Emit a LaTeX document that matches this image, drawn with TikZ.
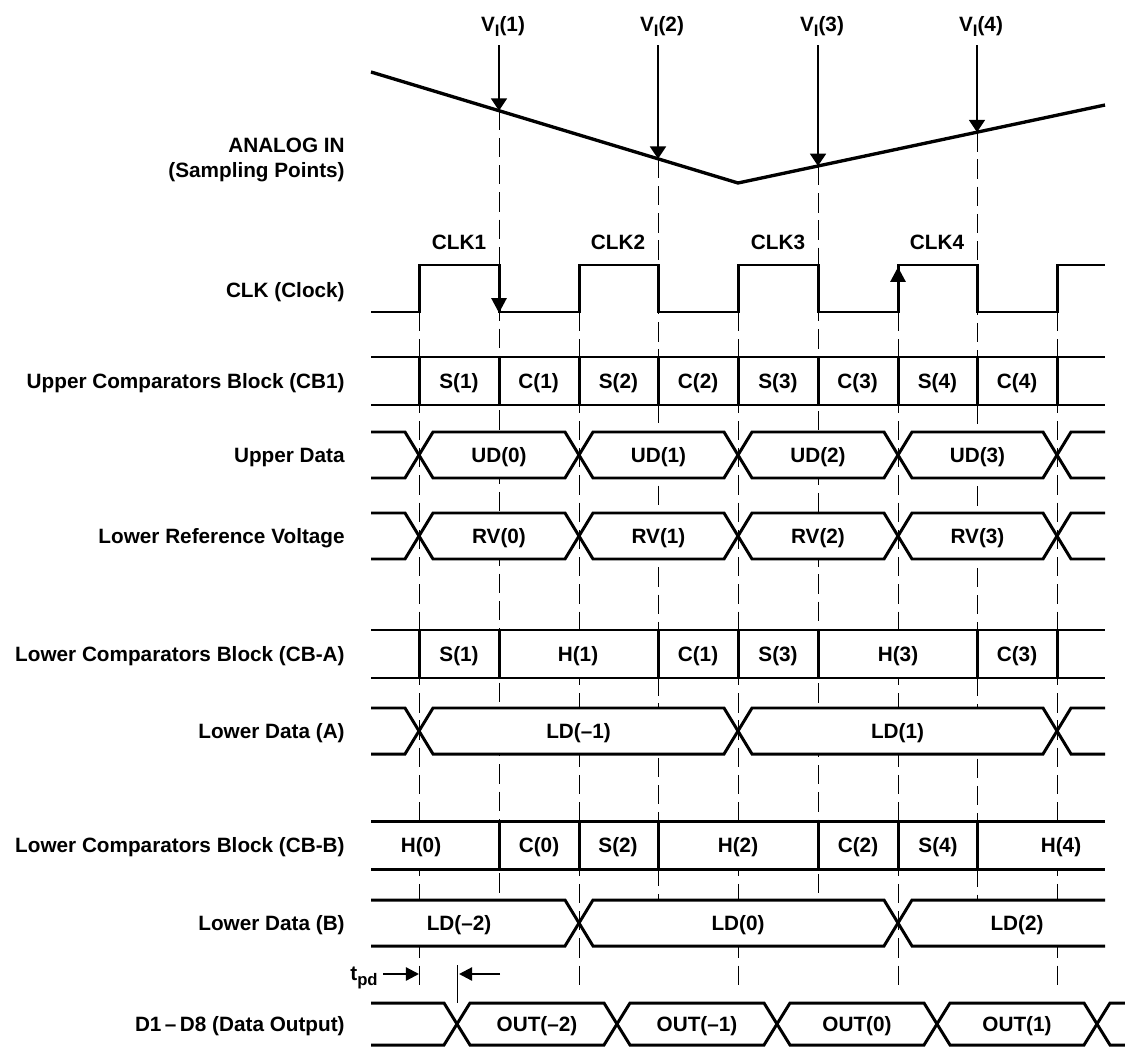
\documentclass[tikz,border=0pt]{standalone}
\usepackage{fontspec}
\setmainfont{Liberation Sans}
\usetikzlibrary{arrows.meta}
\newcommand{\lowsub}[1]{\raisebox{-0.45ex}{\fontsize{9.5}{11}\selectfont #1}}

\begin{document}
\begin{tikzpicture}[
    x=0.02cm, y=-0.02cm,
    sig/.style={line width=1.7pt},
    guide/.style={line width=0.5pt, dash pattern=on 11pt off 4.5pt},
    txt/.style={font=\fontsize{11.8}{14}\selectfont\bfseries, inner sep=0pt, text height=8.4pt, text depth=0pt},
    lbl/.style={txt, anchor=east},
    varr/.style={-{Triangle[length=7pt, width=9pt]}, line width=1.3pt},
    clkarr/.style={-{Triangle[length=8.5pt, width=8.5pt]}, line width=1.7pt},
    tarr/.style={-{Triangle[length=7.5pt, width=7.5pt]}, line width=1.3pt}
]
    \useasboundingbox (0,0) rectangle (1125,1047);

    % Signal names (left column)
    \node[lbl] (nAnalog) at (345,145) {ANALOG IN};
    \node[lbl] (nSampling) at (345,170) {(Sampling Points)};
    \node[lbl] (nClk) at (345,290) {CLK (Clock)};
    \node[lbl] (nCB1) at (345,381) {Upper Comparators Block (CB1)};
    \node[lbl] (nUD) at (345,455) {Upper Data};
    \node[lbl] (nRV) at (345,536) {Lower Reference Voltage};
    \node[lbl] (nCBA) at (345,654) {Lower Comparators Block (CB-A)};
    \node[lbl] (nLDA) at (345,731) {Lower Data (A)};
    \node[lbl] (nCBB) at (345,845) {Lower Comparators Block (CB-B)};
    \node[lbl] (nLDB) at (345,923) {Lower Data (B)};
    \node[lbl] (nOut) at (345,1024) {D1\,–\,D8 (Data Output)};

    % Analog input and sampling points
    \coordinate (a0) at (371,72);
    \coordinate (a1) at (738,183);
    \coordinate (a2) at (1105,105);
    \foreach \i/\x/\y in {1/499/110.7, 2/658/158.8, 3/818/166, 4/977/132.2}
        \coordinate (s\i) at (\x,\y);

    % Timing guides (under everything)
    \foreach \x in {419,579,738,898,1057}
        \draw[guide] (\x,312) -- (\x,992);
    \foreach \i/\x in {1/499,2/658,3/818,4/977}
        \draw[guide] (s\i) -- (\x,900);
    \draw[line width=0.5pt] (457,965) -- (457,1003);

    \draw[line width=1.9pt] (a0) -- (a1) -- (a2);
    \foreach \i/\x in {1/499,2/658,3/818,4/977} {
        \node[txt] (vi\i) at (\x+4,24) {V\lowsub{I}(\i)};
        \draw[varr, shorten <=0.27cm] (s\i |- vi\i.south) -- (s\i);
    }

    % Clock
    \draw[sig] (371,312) -- (419,312) |- (499,265) |- (579,312) |- (658,265) |- (738,312)
        |- (818,265) |- (898,312) |- (977,265) |- (1057,312) |- (1105,265);
    \foreach \i/\x in {1/459,2/618,3/778,4/937}
        \node[txt] (clk\i) at (\x,242) {CLK\i};
    \draw[clkarr] (499,265) -- (499,313);
    \draw[clkarr] (898,312) -- (898,267);

    % Upper comparators block
    \fill[white] (371,357) rectangle (1105,405);
    \draw[sig] (371,357) -- (1105,357) (371,405) -- (1105,405);
    \foreach \x in {419,499,579,658,738,818,898,977,1057}
        \draw[sig] (\x,357) -- (\x,405);
    \foreach \t [count=\i] in {S(1),C(1),S(2),C(2),S(3),C(3),S(4),C(4)}
        \node[txt] (cb\i) at (419+79.75*\i-39.9,381) {\t};

    % Upper data and lower reference voltage
    \foreach \y/\p in {455/UD,536/RV} {
        \draw[sig] (371,\y-23) -- (405,\y-23) -- (419,\y) -- (405,\y+23) -- (371,\y+23);
        \draw[sig] (1105,\y-23) -- (1071,\y-23) -- (1057,\y) -- (1071,\y+23) -- (1105,\y+23);
        \foreach \a/\b [count=\i from 0] in {419/579,579/738,738/898,898/1057} {
            \filldraw[sig, fill=white] (\a,\y) -- (\a+14,\y-23) -- (\b-14,\y-23) -- (\b,\y)
                -- (\b-14,\y+23) -- (\a+14,\y+23) -- cycle;
            \node[txt] (\p\i) at ({(\a+\b)/2},\y) {\p(\i)};
        }
    }

    % Lower comparators block A
    \fill[white] (371,630) rectangle (1105,678);
    \draw[sig] (371,630) -- (1105,630) (371,678) -- (1105,678);
    \foreach \x in {419,499,658,738,818,977,1057}
        \draw[sig] (\x,630) -- (\x,678);
    \foreach \t/\x [count=\i] in {S(1)/459,H(1)/578,C(1)/698,S(3)/778,H(3)/898,C(3)/1017}
        \node[txt] (cba\i) at (\x,654) {\t};

    % Lower data A
    \draw[sig] (371,708) -- (405,708) -- (419,731) -- (405,754) -- (371,754);
    \draw[sig] (1105,708) -- (1071,708) -- (1057,731) -- (1071,754) -- (1105,754);
    \foreach \a/\b/\t [count=\i] in {419/738/LD(–1),738/1057/LD(1)} {
        \filldraw[sig, fill=white] (\a,731) -- (\a+14,708) -- (\b-14,708) -- (\b,731)
            -- (\b-14,754) -- (\a+14,754) -- cycle;
        \node[txt] (lda\i) at ({(\a+\b)/2},731) {\t};
    }

    % Lower comparators block B
    \fill[white] (371,821) rectangle (1105,869);
    \draw[sig] (371,821) -- (1105,821) (371,869) -- (1105,869);
    \foreach \x in {499,579,658,818,898,977}
        \draw[sig] (\x,821) -- (\x,869);
    \foreach \t/\x [count=\i] in {H(0)/421,C(0)/539,S(2)/618,H(2)/738,C(2)/858,S(4)/938,H(4)/1061}
        \node[txt] (cbb\i) at (\x,845) {\t};

    % Lower data B
    \filldraw[sig, fill=white] (579,923) -- (593,900) -- (884,900) -- (898,923)
        -- (884,946) -- (593,946) -- cycle;
    \fill[white] (371,900) -- (565,900) -- (579,923) -- (565,946) -- (371,946) -- cycle;
    \draw[sig] (371,900) -- (565,900) -- (579,923) -- (565,946) -- (371,946);
    \fill[white] (1105,900) -- (912,900) -- (898,923) -- (912,946) -- (1105,946) -- cycle;
    \draw[sig] (1105,900) -- (912,900) -- (898,923) -- (912,946) -- (1105,946);
    \foreach \t/\x [count=\i] in {LD(–2)/459,LD(0)/738,LD(2)/1017}
        \node[txt] (ldb\i) at (\x,923) {\t};

    % Propagation delay
    \node[txt, anchor=east] (tpd) at (378,973) {t\lowsub{pd}};
    \coordinate (tpdA) at (419,974);
    \coordinate (tpdB) at (459,974);
    \coordinate (tpdC) at (500,974);
    \draw[tarr, shorten <=0.1cm] (tpd.east |- tpdA) -- (tpdA);
    \draw[tarr] (tpdC) -- (tpdB);

    % Data output
    \draw[sig] (371,1003) -- (444,1003) -- (457,1024) -- (444,1045) -- (371,1045);
    \draw[sig] (1125,1003) -- (1110,1003) -- (1097,1024) -- (1110,1045) -- (1125,1045);
    \foreach \a/\b/\t [count=\i] in {457/617/OUT(–2),617/777/OUT(–1),777/937/OUT(0),937/1097/OUT(1)} {
        \filldraw[sig, fill=white] (\a,1024) -- (\a+13,1003) -- (\b-13,1003) -- (\b,1024)
            -- (\b-13,1045) -- (\a+13,1045) -- cycle;
        \node[txt] (out\i) at ({(\a+\b)/2},1024) {\t};
    }
\end{tikzpicture}
\end{document}
